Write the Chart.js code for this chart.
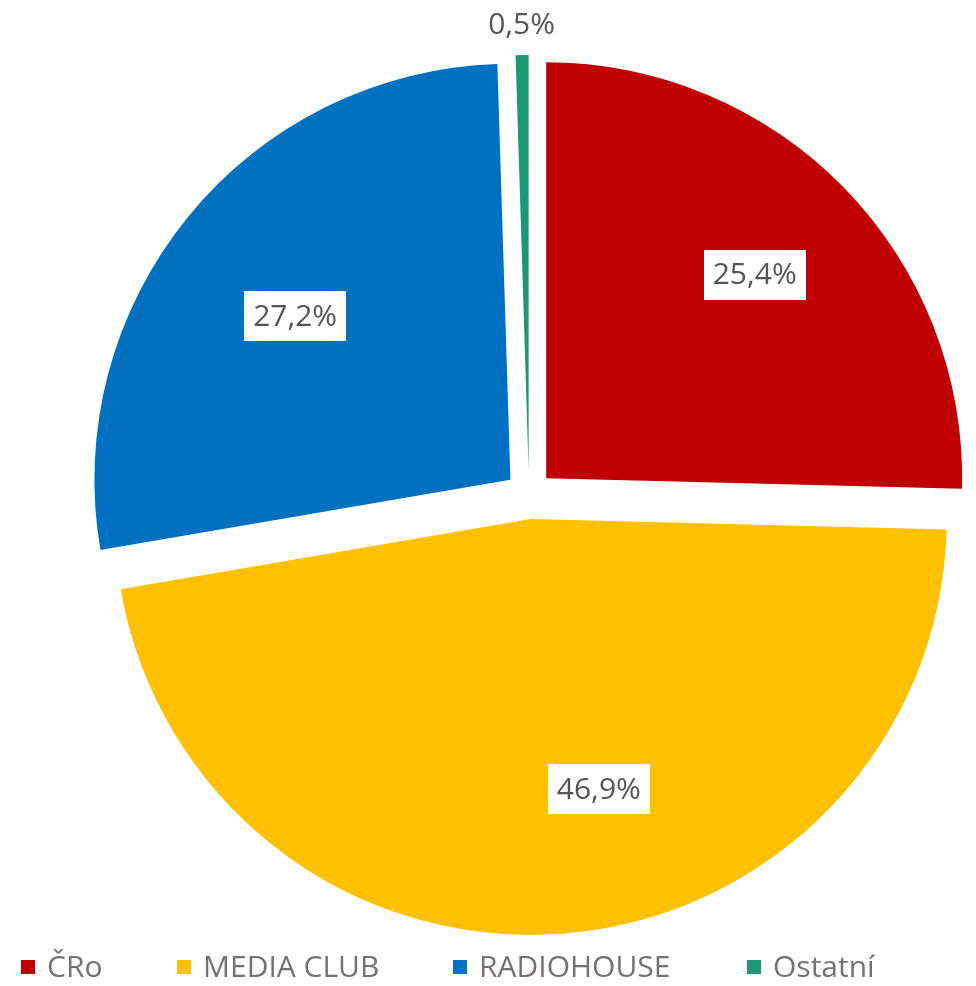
<!DOCTYPE html>
<html>
<head>
<meta charset="utf-8">
<script src="https://cdn.jsdelivr.net/npm/chart.js@4"></script>
<style>
html,body{margin:0;padding:0;background:#ffffff;}
#wrap{width:976px;height:986px;}
canvas{display:block;}
</style>
</head>
<body>
<div id="wrap"><canvas id="c" width="976" height="986"></canvas></div>
<script>
// ---- data ----
const categories = ['ČRo', 'MEDIA CLUB', 'RADIOHOUSE', 'Ostatní'];
const shares = [25.4, 46.9, 27.2, 0.5];
const sliceColors = ['#C00000', '#FFC000', '#0070C0', '#1A9A72'];

const fmt = v => v.toFixed(1).replace('.', ',') + '%';
const FONT = '"Open Sans", "Segoe UI", "Noto Sans", sans-serif';

// moves every slice outward along its mid angle (exploded pie)
const explodePlugin = {
  id: 'explode',
  afterDatasetUpdate(chart, args, opts) {
    const d = opts.distance || 0;
    args.meta.data.forEach(el => {
      const mid = (el.startAngle + el.endAngle) / 2;
      el.x += Math.cos(mid) * d;
      el.y += Math.sin(mid) * d;
    });
  }
};

// percentage labels with white boxes
const sliceLabelPlugin = {
  id: 'sliceLabels',
  afterDatasetsDraw(chart, args, o) {
    const ctx = chart.ctx;
    const meta = chart.getDatasetMeta(0);
    const vals = chart.data.datasets[0].data;
    ctx.save();
    ctx.font = o.size + 'px ' + FONT;
    ctx.textAlign = 'center';
    ctx.textBaseline = 'middle';
    meta.data.forEach((el, i) => {
      const v = vals[i];
      const txt = fmt(v);
      const t = (o.tune && o.tune[i]) || {};
      const mid = (el.startAngle + el.endAngle) / 2 + (t.angle || 0) * Math.PI / 180;
      const outside = v < o.outsideBelow;
      const dist = outside ? el.outerRadius + o.outsideGap : el.outerRadius * (t.frac || o.frac);
      const x = el.x + Math.cos(mid) * dist;
      const y = el.y + Math.sin(mid) * dist;
      const w = ctx.measureText(txt).width + 2 * o.padX;
      const h = o.boxH;
      if (!outside) {
        ctx.fillStyle = '#ffffff';
        ctx.fillRect(Math.round(x - w / 2), Math.round(y - h / 2), Math.round(w), h);
      }
      ctx.fillStyle = o.color;
      ctx.fillText(txt, x, y + 1);
    });
    ctx.restore();
  }
};

// bottom legend
const bottomLegendPlugin = {
  id: 'bottomLegend',
  afterDraw(chart, args, o) {
    const ctx = chart.ctx;
    const ds = chart.data.datasets[0];
    ctx.save();
    ctx.font = o.size + 'px ' + FONT;
    ctx.textAlign = 'left';
    ctx.textBaseline = 'middle';
    chart.data.labels.forEach((lab, i) => {
      const x = o.xs[i];
      ctx.fillStyle = ds.backgroundColor[i];
      ctx.fillRect(x, o.y - o.box / 2, o.box, o.box);
      ctx.fillStyle = o.color;
      ctx.fillText(lab, x + o.box + o.gap, o.y + 1);
    });
    ctx.restore();
  }
};

new Chart(document.getElementById('c'), {
  type: 'pie',
  data: {
    labels: categories,
    datasets: [{
      data: shares,
      backgroundColor: sliceColors,
      borderWidth: 0,
      radius: 416
    }]
  },
  options: {
    responsive: false,
    animation: false,
    events: [],
    layout: { padding: { left: 82, right: 0, top: 4, bottom: 0 } },
    plugins: {
      legend: { display: false },
      tooltip: { enabled: false },
      explode: { distance: 24 },
      sliceLabels: {
        size: 30, color: '#595454', padX: 9, boxH: 50,
        frac: 0.68, outsideBelow: 2, outsideGap: 31,
        tune: [{ frac: 0.70, angle: 0 }, { frac: 0.67, angle: -10 }, { frac: 0.65, angle: -2 }, {}]
      },
      bottomLegend: {
        size: 30, color: '#767171', box: 14, gap: 12, y: 967,
        xs: [21, 177, 453, 747]
      }
    }
  },
  plugins: [explodePlugin, sliceLabelPlugin, bottomLegendPlugin]
});
</script>
</body>
</html>
